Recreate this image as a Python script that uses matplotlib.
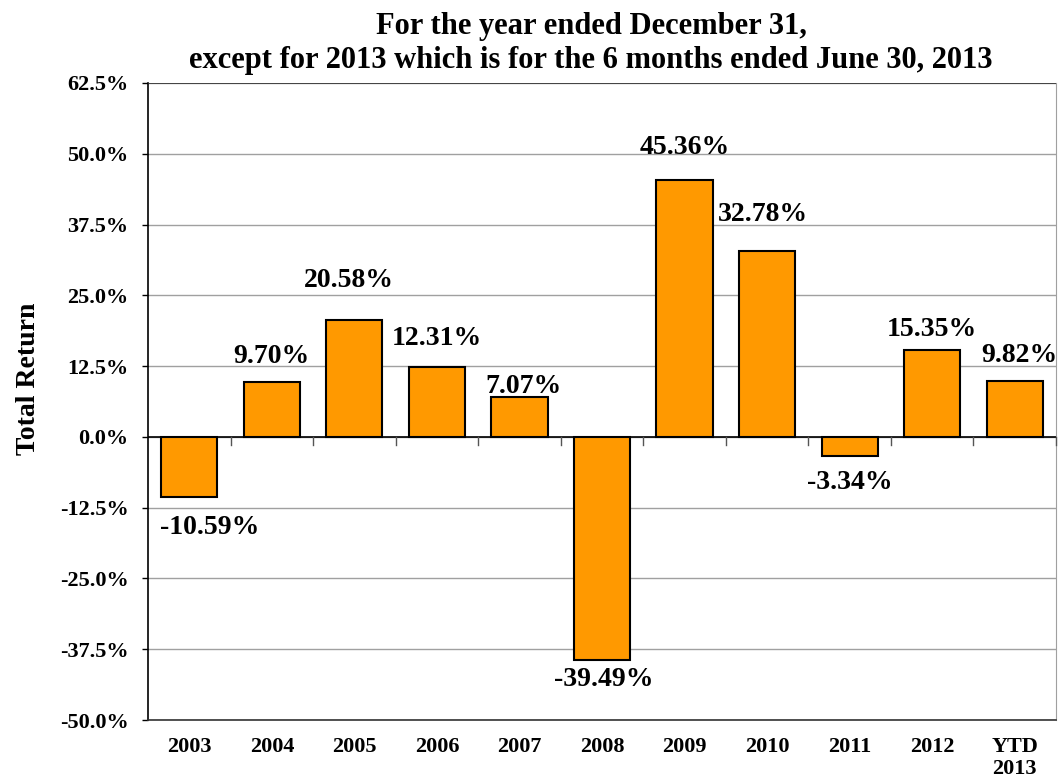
import numpy as np
import matplotlib.pyplot as plt

# ===============================
# DATA
# ===============================
categories = ["2003", "2004", "2005", "2006", "2007", "2008",
              "2009", "2010", "2011", "2012", "YTD\n2013"]
returns = [-10.59, 9.70, 20.58, 12.31, 7.07, -39.49,
           45.36, 32.78, -3.34, 15.35, 9.82]
labels = ["-10.59%", "9.70%", "20.58%", "12.31%", "7.07%", "-39.49%",
          "45.36%", "32.78%", "-3.34%", "15.35%", "9.82%"]
y_ticks = [-50.0, -37.5, -25.0, -12.5, 0.0, 12.5, 25.0, 37.5, 50.0, 62.5]

# label offsets in points (dx, dy) relative to bar end
offsets = [(15, -13), (0, 14), (-4, 24), (0, 16), (3, 3), (1, -5),
           (0, 19), (-3, 22), (0, -10), (0, 10), (3, 14)]

# ===============================
# PLOT
# ===============================
plt.rcParams["font.family"] = ["Liberation Serif", "DejaVu Serif"]
plt.rcParams["font.weight"] = "bold"

fig = plt.figure(figsize=(10.59, 7.83), dpi=100)
ax = fig.add_axes([148 / 1059, 1 - 720 / 783, 908 / 1059, 637 / 783])

x = np.arange(len(categories))
ax.bar(x, returns, width=0.68, color="#FF9900", edgecolor="black",
       linewidth=1.5, zorder=3)

for xi, v, lab, (dx, dy) in zip(x, returns, labels, offsets):
    va = "baseline" if v >= 0 else "top"
    ax.annotate(lab, (xi, v), xytext=(dx, dy), textcoords="offset points",
                ha="center", va=va, fontsize=20, fontweight="bold")

ax.set_xlim(-0.5, len(categories) - 0.5)
ax.set_ylim(-50, 62.5)
ax.set_yticks(y_ticks)
ax.set_yticklabels([f"{t:.1f}%" for t in y_ticks], fontsize=16,
                   fontweight="bold")
ax.yaxis.grid(True, color="#a0a0a0", linewidth=1, zorder=0)
ax.axhline(0, color="black", linewidth=1.2, zorder=4)
ax.axhline(62.5, color="#333333", linewidth=1.2, zorder=4)

ax.set_xticks(x)
ax.set_xticklabels(categories, fontsize=16, fontweight="bold",
                   va="top", linespacing=1.15)
ax.tick_params(axis="x", length=0, pad=12)
ax.tick_params(axis="y", length=4, width=1, direction="out", pad=10)

# small ticks on zero line between categories
for b in np.arange(0.5, len(categories), 1.0):
    ax.plot([b, b], [0, -1.4], color="#555555", linewidth=1, zorder=4,
            clip_on=False)

ax.spines["top"].set_visible(False)
ax.spines["right"].set_color("#a0a0a0")
ax.spines["left"].set_color("black")
ax.spines["bottom"].set_color("#333333")
ax.spines["left"].set_linewidth(1.2)
ax.spines["bottom"].set_linewidth(1.2)

ax.set_ylabel("Total Return", fontsize=20, fontweight="bold")
ax.yaxis.set_label_coords(-0.118, 0.535)
ax.set_title("For the year ended December 31,\n"
             "except for 2013 which is for the 6 months ended June 30, 2013",
             fontsize=22, fontweight="bold", pad=11, linespacing=1.22,
             x=0.488)

fig.savefig("out.png", dpi=100)
